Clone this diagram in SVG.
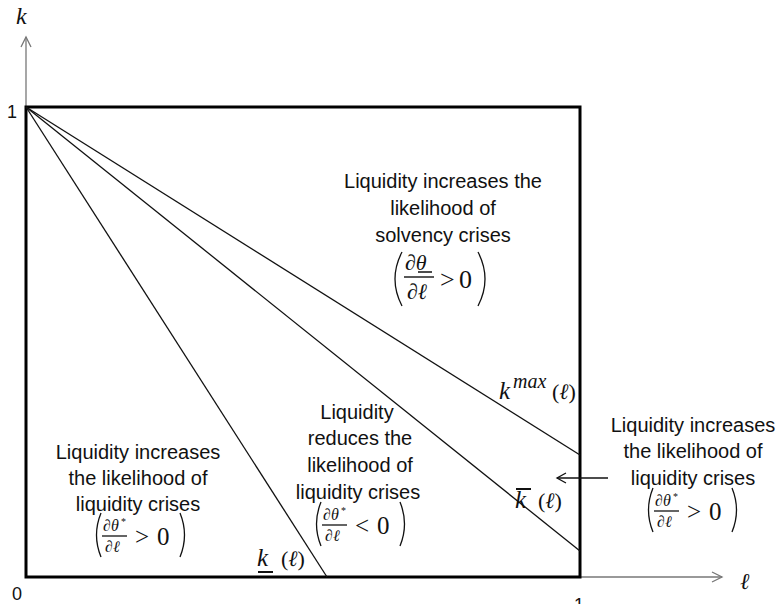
<svg xmlns="http://www.w3.org/2000/svg" width="780" height="604" viewBox="0 0 780 604">
<defs>
<style>
.txt{font-family:"Liberation Sans",Arial,sans-serif;font-size:20px;fill:#111;text-anchor:middle}
.num{font-family:"Liberation Sans",Arial,sans-serif;font-size:18px;fill:#111}
.m{font-family:"Liberation Serif","DejaVu Serif",serif;font-style:italic;fill:#111}
.mr{font-family:"Liberation Serif","DejaVu Serif",serif;fill:#111}
.thin{stroke:#111;stroke-width:1.3;fill:none}
.axis{stroke:#777;stroke-width:1.3;fill:none}
</style>
<g id="fracGt">
<path class="thin" d="M8,-22 Q-1,0 8,22"/>
<text class="m" x="10" y="-4" font-size="16">∂θ</text>
<text class="mr" x="28" y="-10" font-size="10">*</text>
<line class="thin" x1="9" y1="1" x2="34" y2="1" stroke-width="1.2"/>
<text class="m" x="12" y="17" font-size="16">∂ℓ</text>
<text class="mr" x="42" y="10" font-size="25">&gt;</text>
<text class="mr" x="64" y="10" font-size="25">0</text>
<path class="thin" d="M87,-22 Q96,0 87,22"/>
</g>
<g id="fracLt">
<path class="thin" d="M8,-22 Q-1,0 8,22"/>
<text class="m" x="10" y="-4" font-size="16">∂θ</text>
<text class="mr" x="28" y="-10" font-size="10">*</text>
<line class="thin" x1="9" y1="1" x2="34" y2="1" stroke-width="1.2"/>
<text class="m" x="12" y="17" font-size="16">∂ℓ</text>
<text class="mr" x="42" y="10" font-size="25">&lt;</text>
<text class="mr" x="64" y="10" font-size="25">0</text>
<path class="thin" d="M87,-22 Q96,0 87,22"/>
</g>
</defs>

<g id="axes">
<line class="axis" x1="26" y1="37" x2="26" y2="107"/>
<polyline class="axis" points="21,47 26,37 31,47"/>
<line class="axis" x1="580" y1="577" x2="722" y2="577"/>
<polyline class="axis" points="712,572 722,577 712,582"/>
<text class="m" x="16" y="24" font-size="24">k</text>
<text class="m" x="740" y="589" font-size="23">ℓ</text>
<text class="num" x="7" y="118">1</text>
<text class="num" x="12" y="600">0</text>
<text class="num" x="574" y="611">1</text>
</g>

<g id="box">
<rect x="26" y="107" width="554" height="470" fill="none" stroke="#000" stroke-width="3"/>
</g>

<g id="connectors">
<line class="thin" x1="26" y1="107" x2="580" y2="455"/>
<line class="thin" x1="26" y1="107" x2="580" y2="551"/>
<line class="thin" x1="26" y1="107" x2="327" y2="577"/>
<line class="thin" x1="608" y1="478" x2="557" y2="478" stroke-width="1.6"/>
<polyline class="thin" points="566,473 557,478 566,483" stroke-width="1.6"/>
</g>

<g id="curve-labels">
<text class="m" x="499" y="399" font-size="25">k</text>
<text class="m" x="513" y="388" font-size="20">max</text>
<text class="mr" x="552" y="399" font-size="22">(<tspan font-style="italic">ℓ</tspan>)</text>
<text class="m" x="515" y="508" font-size="25">k</text>
<line x1="516" y1="489" x2="531" y2="489" stroke="#111" stroke-width="2"/>
<text class="mr" x="538" y="508" font-size="22">(<tspan font-style="italic">ℓ</tspan>)</text>
<text class="m" x="257" y="566" font-size="25">k</text>
<line x1="258" y1="572" x2="273" y2="572" stroke="#111" stroke-width="2"/>
<text class="mr" x="281" y="566" font-size="22">(<tspan font-style="italic">ℓ</tspan>)</text>
</g>

<g id="region-solvency">
<text class="txt" x="443" y="188">Liquidity increases the</text>
<text class="txt" x="443" y="215">likelihood of</text>
<text class="txt" x="443" y="242">solvency crises</text>
<path class="thin" d="M402,252 Q388,279 402,306" stroke-width="1.5"/>
<text class="m" x="405" y="270" font-size="22">∂θ</text>
<line x1="418" y1="272" x2="432" y2="272" stroke="#111" stroke-width="1.5"/>
<line x1="404" y1="277" x2="434" y2="277" stroke="#111" stroke-width="1.4"/>
<text class="m" x="407" y="299" font-size="22">∂ℓ</text>
<text class="mr" x="440" y="288" font-size="26">&gt;</text>
<text class="mr" x="459" y="288" font-size="26">0</text>
<path class="thin" d="M478,252 Q492,279 478,306" stroke-width="1.5"/>
</g>

<g id="region-left">
<text class="txt" x="138" y="459">Liquidity increases</text>
<text class="txt" x="138" y="485">the likelihood of</text>
<text class="txt" x="138" y="511">liquidity crises</text>
<use href="#fracGt" x="93" y="535"/>
</g>

<g id="region-middle">
<text class="txt" x="357" y="419">Liquidity</text>
<text class="txt" x="360" y="445">reduces the</text>
<text class="txt" x="360" y="472">likelihood of</text>
<text class="txt" x="358" y="499">liquidity crises</text>
<use href="#fracLt" x="313" y="524"/>
</g>

<g id="region-right">
<text class="txt" x="693" y="432">Liquidity increases</text>
<text class="txt" x="693" y="458">the likelihood of</text>
<text class="txt" x="693" y="485">liquidity crises</text>
<use href="#fracGt" x="645" y="510"/>
</g>
</svg>
